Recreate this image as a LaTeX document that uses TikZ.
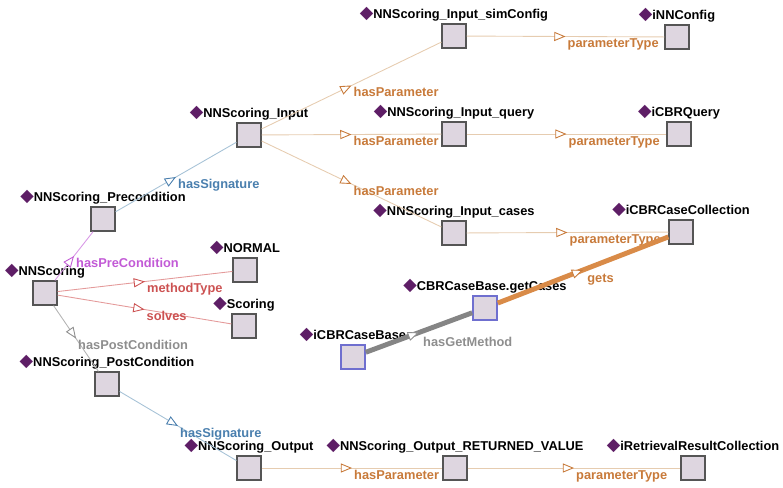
\documentclass[tikz,border=0pt]{standalone}
\usepackage{fontspec}
\setmainfont{Liberation Sans}
\newfontfamily\symb{DejaVu Sans}
\usepackage{xcolor}
\usetikzlibrary{arrows.meta,decorations.markings}

\definecolor{boxfill}{HTML}{DED6E0}
\definecolor{boxedge}{HTML}{555555}
\definecolor{callblue}{HTML}{6F6FCF}
\definecolor{tagpurple}{HTML}{5E1E66}
\definecolor{paramline}{HTML}{E6CCB0}
\definecolor{paramtext}{HTML}{C87A3A}
\definecolor{sigline}{HTML}{A6C2D6}
\definecolor{sigtext}{HTML}{4A7FAE}
\definecolor{preline}{HTML}{D898E6}
\definecolor{pretext}{HTML}{C25AD6}
\definecolor{redline}{HTML}{E49A9A}
\definecolor{redtext}{HTML}{CC5252}
\definecolor{postline}{HTML}{B4B4B4}
\definecolor{posttext}{HTML}{8E8E8E}
\definecolor{getsline}{HTML}{D98B48}
\definecolor{getmline}{HTML}{858585}

\newcommand{\tagtext}[1]{{\symb\fontsize{10}{10}\selectfont\color{tagpurple}\char"25C6}#1}

\tikzset{
  box/.style={rectangle, draw=boxedge, line width=1pt, fill=boxfill,
              minimum size=0.47cm, inner sep=0pt},
  callbox/.style={box, draw=callblue, line width=1.2pt},
  tag/.style={font=\fontsize{7.3}{8}\selectfont\bfseries, inner sep=0pt, anchor=base},
  lab/.style={font=\fontsize{7.3}{8}\selectfont\bfseries, text=#1,
              anchor=north west, inner sep=1pt, pos=0.5},
  rel/.style 2 args={draw=#1, line width=0.5pt, postaction={decorate},
      decoration={markings, mark=at position 0.5 with
        {\arrow[draw=#2, line width=0.5pt]{Triangle[length=6.4pt, width=5.2pt, fill=white]}}}}
}

\begin{document}
\begin{tikzpicture}[x=0.02cm, y=-0.02cm]

    \useasboundingbox (0,0) rectangle (783,487);

    % objects
    \node[box] (scoring) at (45,293) {};
    \node[tag] (scoringTag) at ([yshift=0.09cm]scoring.north) {\tagtext{NNScoring}};

    \node[box] (pre) at (103,219) {};
    \node[tag] (preTag) at ([yshift=0.09cm]pre.north) {\tagtext{NNScoring\_Precondition}};

    \node[box] (post) at (107,384) {};
    \node[tag] (postTag) at ([yshift=0.09cm]post.north) {\tagtext{NNScoring\_PostCondition}};

    \node[box] (normal) at (245,270) {};
    \node[tag] (normalTag) at ([yshift=0.09cm]normal.north) {\tagtext{NORMAL}};

    \node[box] (scoringType) at (244,326) {};
    \node[tag] (scoringTypeTag) at ([yshift=0.09cm]scoringType.north) {\tagtext{Scoring}};

    \node[box] (input) at (249,135) {};
    \node[tag] (inputTag) at ([yshift=0.09cm]input.north) {\tagtext{NNScoring\_Input}};

    \node[box] (simConfig) at (454,36) {};
    \node[tag] (simConfigTag) at ([yshift=0.09cm]simConfig.north) {\tagtext{NNScoring\_Input\_simConfig}};

    \node[box] (query) at (454,134) {};
    \node[tag] (queryTag) at ([yshift=0.09cm]query.north) {\tagtext{NNScoring\_Input\_query}};

    \node[box] (cases) at (454,233) {};
    \node[tag] (casesTag) at ([yshift=0.09cm]cases.north) {\tagtext{NNScoring\_Input\_cases}};

    \node[box] (nnConfig) at (677,37) {};
    \node[tag] (nnConfigTag) at ([yshift=0.09cm]nnConfig.north) {\tagtext{iNNConfig}};

    \node[box] (cbrQuery) at (679,134) {};
    \node[tag] (cbrQueryTag) at ([yshift=0.09cm]cbrQuery.north) {\tagtext{iCBRQuery}};

    \node[box] (caseColl) at (681,232) {};
    \node[tag] (caseCollTag) at ([yshift=0.09cm]caseColl.north) {\tagtext{iCBRCaseCollection}};

    \node[callbox] (getCases) at (485,308) {};
    \node[tag] (getCasesTag) at ([yshift=0.09cm]getCases.north) {\tagtext{CBRCaseBase.getCases}};

    \node[callbox] (caseBase) at (353,357) {};
    \node[tag] (caseBaseTag) at ([yshift=0.09cm]caseBase.north) {\tagtext{iCBRCaseBase}};

    \node[box] (output) at (249,468) {};
    \node[tag] (outputTag) at ([yshift=0.09cm]output.north) {\tagtext{NNScoring\_Output}};

    \node[box] (retVal) at (455,468) {};
    \node[tag] (retValTag) at ([yshift=0.09cm]retVal.north) {\tagtext{NNScoring\_Output\_RETURNED\_VALUE}};

    \node[box] (resColl) at (693,468) {};
    \node[tag] (resCollTag) at ([yshift=0.09cm]resColl.north) {\tagtext{iRetrievalResultCollection}};

    % relations
    \path
    (scoring) edge [rel={preline}{pretext}] node [lab=pretext] {hasPreCondition} (pre)
    (scoring) edge [rel={redline}{redtext}] node [lab=redtext] {methodType} (normal)
    (scoring) edge [rel={redline}{redtext}] node [lab=redtext] {solves} (scoringType)
    (scoring) edge [rel={postline}{posttext}] node [lab=posttext] {hasPostCondition} (post)
    (pre) edge [rel={sigline}{sigtext}] node [lab=sigtext] {hasSignature} (input)
    (post) edge [rel={sigline}{sigtext}] node [lab=sigtext] {hasSignature} (output)
    %input parameters
    (input) edge [rel={paramline}{paramtext}] node [lab=paramtext] {hasParameter} (simConfig)
    (input) edge [rel={paramline}{paramtext}] node [lab=paramtext] {hasParameter} (query)
    (input) edge [rel={paramline}{paramtext}] node [lab=paramtext] {hasParameter} (cases)
    (simConfig) edge [rel={paramline}{paramtext}] node [lab=paramtext] {parameterType} (nnConfig)
    (query) edge [rel={paramline}{paramtext}] node [lab=paramtext] {parameterType} (cbrQuery)
    (cases) edge [rel={paramline}{paramtext}] node [lab=paramtext] {parameterType} (caseColl)
    %output parameter
    (output) edge [rel={paramline}{paramtext}] node [lab=paramtext] {hasParameter} (retVal)
    (retVal) edge [rel={paramline}{paramtext}] node [lab=paramtext] {parameterType} (resColl)
    %case base method
    (caseBase) edge [rel={getmline}{posttext}, line width=2.8pt] node [lab=posttext] {hasGetMethod} (getCases)
    (getCases) edge [rel={getsline}{paramtext}, line width=2.8pt] node [lab=paramtext] {gets} (caseColl);

\end{tikzpicture}
\end{document}
